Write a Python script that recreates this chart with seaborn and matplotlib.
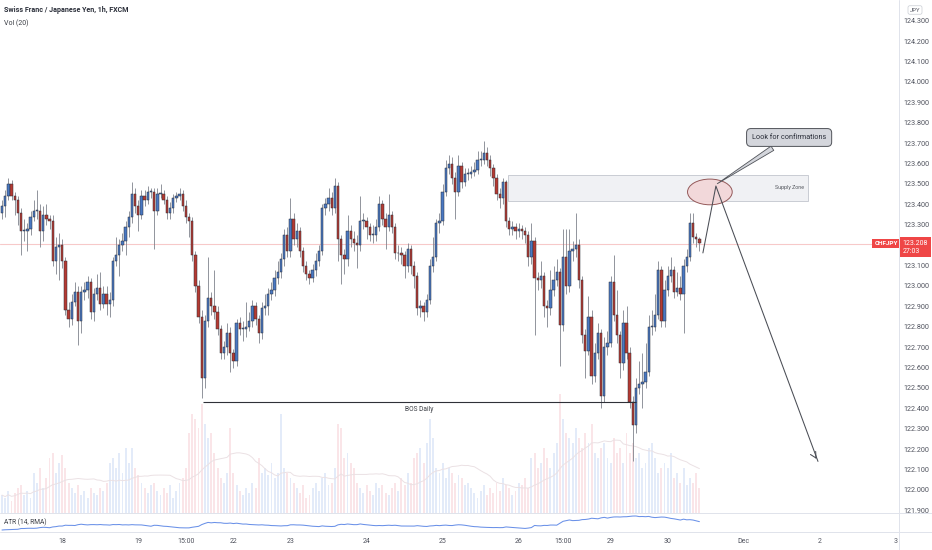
"""
CHFJPY 1h candlestick chart in a TradingView-like style:
price pane with volume overlay, supply zone / BOS drawings, ATR pane below.
"""
import matplotlib
matplotlib.use("Agg")
import matplotlib.pyplot as plt
import matplotlib.patches as mpatches
import matplotlib.transforms as mtransforms
from matplotlib.lines import Line2D
import seaborn as sns
import numpy as np
import pandas as pd

sns.set_theme(style="white")
plt.rcParams["font.family"] = ["Roboto", "DejaVu Sans"]

# ---- data ------------------------------------------------------------------
OPEN_FIRST = 123.36
CLOSE = [
    123.39, 123.44, 123.50, 123.44, 123.42, 123.36, 123.27, 123.27, 123.28, 123.34,
    123.37, 123.37, 123.27, 123.35, 123.33, 123.32, 123.12, 123.19, 123.20, 123.12,
    122.88, 122.84, 122.92, 122.97, 122.83, 122.97, 122.98, 123.02, 122.87, 122.96,
    122.99, 122.91, 122.96, 122.91, 122.93, 123.12, 123.15, 123.20, 123.22, 123.29,
    123.34, 123.45, 123.39, 123.35, 123.44, 123.42, 123.46, 123.46, 123.37, 123.45,
    123.45, 123.42, 123.36, 123.38, 123.43, 123.44, 123.45, 123.39, 123.34, 123.32,
    123.15, 123.00, 122.85, 122.55, 122.83, 122.94, 122.90, 122.87, 122.79, 122.67,
    122.70, 122.77, 122.67, 122.63, 122.82, 122.79, 122.79, 122.80, 122.83, 122.90,
    122.84, 122.77, 122.89, 122.90, 122.96, 122.98, 123.04, 123.07, 123.13, 123.25,
    123.17, 123.33, 123.23, 123.27, 123.17, 123.10, 123.06, 123.04, 123.08, 123.12,
    123.17, 123.38, 123.40, 123.43, 123.38, 123.49, 123.23, 123.15, 123.13, 123.27,
    123.23, 123.21, 123.20, 123.32, 123.32, 123.29, 123.25, 123.25, 123.29, 123.40,
    123.33, 123.29, 123.35, 123.29, 123.16, 123.16, 123.15, 123.10, 123.18, 123.10,
    123.05, 122.89, 122.90, 122.87, 122.93, 123.10, 123.14, 123.31, 123.32, 123.46,
    123.58, 123.60, 123.53, 123.46, 123.59, 123.51, 123.55, 123.55, 123.56, 123.57,
    123.62, 123.62, 123.65, 123.62, 123.58, 123.53, 123.45, 123.43, 123.51, 123.32,
    123.28, 123.29, 123.27, 123.28, 123.27, 123.25, 123.14, 123.22, 123.04, 123.03,
    123.05, 122.90, 122.89, 122.98, 123.03, 123.07, 122.81, 123.14, 123.00, 123.17,
    123.18, 123.20, 123.03, 122.76, 122.68, 122.85, 122.56, 122.67, 122.77, 122.46,
    122.70, 122.72, 123.02, 122.86, 122.76, 122.62, 122.82, 122.67, 122.43, 122.32,
    122.50, 122.52, 122.53, 122.58, 122.80, 122.80, 122.86, 123.08, 122.83, 122.98,
    123.05, 123.08, 122.97, 122.99, 122.96, 123.10, 123.14, 123.31, 123.24, 123.23,
    123.21,
]
HIGH = [
    123.42, 123.47, 123.53, 123.52, 123.46, 123.44, 123.38, 123.33, 123.31, 123.37,
    123.42, 123.47, 123.40, 123.39, 123.40, 123.35, 123.35, 123.24, 123.26, 123.23,
    123.14, 122.92, 122.96, 123.02, 123.00, 123.00, 123.02, 123.05, 123.04, 122.99,
    123.06, 123.07, 123.00, 123.00, 122.97, 123.14, 123.24, 123.23, 123.26, 123.32,
    123.37, 123.51, 123.48, 123.42, 123.47, 123.47, 123.49, 123.48, 123.48, 123.48,
    123.50, 123.47, 123.44, 123.41, 123.45, 123.46, 123.48, 123.47, 123.42, 123.36,
    123.34, 123.17, 123.03, 122.88, 122.86, 123.14, 122.97, 123.08, 122.90, 122.81,
    122.73, 122.82, 122.80, 122.69, 122.84, 122.85, 122.83, 122.92, 122.87, 122.93,
    122.92, 122.86, 122.92, 122.96, 122.99, 123.02, 123.08, 123.12, 123.16, 123.28,
    123.29, 123.43, 123.36, 123.31, 123.29, 123.19, 123.12, 123.08, 123.11, 123.16,
    123.20, 123.40, 123.43, 123.48, 123.46, 123.53, 123.51, 123.25, 123.18, 123.35,
    123.30, 123.27, 123.25, 123.44, 123.36, 123.34, 123.31, 123.30, 123.33, 123.44,
    123.42, 123.36, 123.45, 123.37, 123.31, 123.20, 123.19, 123.17, 123.21, 123.20,
    123.12, 123.07, 122.93, 122.92, 122.96, 123.13, 123.24, 123.33, 123.36, 123.50,
    123.62, 123.64, 123.63, 123.56, 123.64, 123.61, 123.58, 123.58, 123.59, 123.61,
    123.66, 123.66, 123.71, 123.68, 123.64, 123.60, 123.55, 123.48, 123.53, 123.52,
    123.34, 123.32, 123.31, 123.31, 123.30, 123.29, 123.27, 123.31, 123.24, 123.07,
    123.12, 123.07, 122.93, 123.08, 123.10, 123.13, 123.09, 123.28, 123.28, 123.28,
    123.22, 123.36, 123.23, 123.05, 122.79, 122.95, 122.88, 122.72, 122.82, 122.79,
    122.75, 122.78, 123.05, 123.15, 122.98, 122.78, 122.88, 122.90, 122.70, 122.46,
    122.55, 122.63, 122.67, 122.72, 122.86, 122.88, 122.96, 123.12, 123.10, 123.03,
    123.10, 123.14, 123.10, 123.07, 123.05, 123.13, 123.18, 123.36, 123.36, 123.26,
    123.24,
]
LOW = [
    123.33, 123.34, 123.42, 123.42, 123.35, 123.30, 123.15, 123.22, 123.17, 123.25,
    123.32, 123.33, 123.19, 123.22, 123.30, 123.28, 123.10, 123.06, 123.03, 123.09,
    122.86, 122.80, 122.81, 122.90, 122.71, 122.77, 122.93, 122.94, 122.84, 122.83,
    122.93, 122.88, 122.89, 122.86, 122.85, 122.90, 123.10, 123.05, 123.17, 123.15,
    123.24, 123.31, 123.36, 123.27, 123.33, 123.39, 123.40, 123.43, 123.18, 123.35,
    123.43, 123.40, 123.33, 123.33, 123.36, 123.41, 123.42, 123.37, 123.31, 123.24,
    123.12, 122.97, 122.82, 122.45, 122.50, 122.80, 122.86, 122.84, 122.76, 122.64,
    122.64, 122.66, 122.58, 122.60, 122.61, 122.76, 122.73, 122.75, 122.78, 122.80,
    122.81, 122.72, 122.74, 122.86, 122.86, 122.93, 122.95, 123.01, 123.04, 123.10,
    123.14, 123.14, 123.20, 123.19, 123.14, 123.07, 123.03, 123.01, 123.02, 123.05,
    123.10, 123.15, 123.35, 123.37, 123.35, 123.36, 123.12, 123.01, 123.06, 123.10,
    123.19, 123.17, 123.09, 123.17, 123.28, 123.23, 123.22, 123.21, 123.22, 123.27,
    123.30, 123.18, 123.27, 123.26, 123.13, 123.12, 123.11, 123.04, 123.07, 123.06,
    122.99, 122.86, 122.85, 122.83, 122.85, 122.91, 123.07, 123.12, 123.26, 123.30,
    123.44, 123.55, 123.50, 123.33, 123.44, 123.48, 123.49, 123.52, 123.53, 123.54,
    123.55, 123.59, 123.60, 123.59, 123.54, 123.49, 123.42, 123.38, 123.40, 123.29,
    123.25, 123.25, 123.23, 123.24, 123.23, 123.21, 123.10, 123.11, 122.76, 122.98,
    122.99, 122.85, 122.80, 122.86, 122.95, 123.00, 122.61, 122.78, 122.96, 122.97,
    123.12, 123.14, 122.99, 122.72, 122.55, 122.66, 122.52, 122.53, 122.64, 122.40,
    122.43, 122.66, 122.70, 122.83, 122.72, 122.55, 122.59, 122.64, 122.40, 122.14,
    122.28, 122.47, 122.40, 122.50, 122.56, 122.76, 122.78, 122.84, 122.80, 122.80,
    122.95, 123.02, 122.94, 122.95, 122.93, 122.77, 123.07, 123.12, 123.21, 123.19,
    123.17,
]
VOLUME = [
    18, 15, 22, 12, 20, 25, 28, 18, 22, 15,
    40, 30, 45, 25, 35, 55, 60, 40, 50, 58,
    45, 30, 25, 20, 28, 18, 22, 15, 25, 20,
    18, 25, 22, 30, 50, 55, 45, 60, 40, 65,
    50, 65, 45, 38, 30, 25, 20, 28, 30, 22,
    18, 25, 20, 28, 15, 22, 30, 35, 45, 80,
    100, 95, 85, 110, 90, 75, 80, 60, 45, 35,
    30, 40, 85, 40, 28, 22, 18, 25, 20, 30,
    25, 55, 40, 45, 38, 50, 35, 40, 100, 45,
    40, 35, 30, 25, 20, 28, 15, 18, 25, 30,
    22, 35, 40, 28, 30, 45, 90, 85, 55, 60,
    50, 45, 30, 25, 20, 28, 22, 18, 30, 25,
    28, 20, 18, 25, 30, 22, 35, 28, 40, 30,
    55, 60, 65, 50, 70, 95, 75, 45, 40, 50,
    35, 45, 40, 30, 38, 35, 28, 30, 25, 20,
    15, 22, 28, 18, 25, 20, 30, 22, 35, 28,
    25, 18, 22, 30, 28, 35, 25, 55, 60, 45,
    50, 65, 55, 45, 60, 70, 120, 95, 80, 75,
    70, 85, 75, 65, 80, 70, 90, 60, 55, 65,
    70, 55, 50, 75, 60, 65, 50, 80, 60, 70,
    55, 60, 45, 50, 65, 70, 55, 40, 45, 50,
    45, 60, 35, 40, 30, 45, 28, 35, 30, 40,
    25,
]
LAST_PRICE = 123.208
COUNTDOWN = "27:03"

TICK_BARS = [19, 43, 58, 73, 91, 115, 139, 163, 177, 192, 210, 234, 258, 282]
TICK_LABELS = ["18", "19", "15:00", "22", "23", "24", "25", "26", "15:00",
               "29", "30", "Dec", "2", "3"]
PRICE_TICKS = [round(121.9 + 0.1 * k, 1) for k in range(25)]

# drawings (bar index, price)
SUPPLY_BARS = [159.6, 254.3]
SUPPLY_PRICES = [123.417, 123.544]
ELLIPSE_CENTER = [223.3, 123.461]
ELLIPSE_SIZE = [14.1, 0.126]
CALLOUT_TEXT_AT = [248.3, 123.728]
CALLOUT_TIP = [224.9, 123.494]
PATH_BARS = [221.1, 225.2, 257.4]
PATH_PRICES = [123.162, 123.490, 122.140]
BOS_BARS = [63.4, 200.0]
BOS_PRICE = 122.43

UP, DOWN = "#4a78c2", "#b53a32"
VOL_UP, VOL_DOWN = "#e3ebf9", "#fae5e8"
TXT = "#50535e"
GRIDLINE = "#e0e3eb"

# ---- frame -----------------------------------------------------------------
df = pd.DataFrame({"close": CLOSE, "high": HIGH, "low": LOW, "volume": VOLUME})
df["open"] = df["close"].shift(1).fillna(OPEN_FIRST)
df["bar"] = np.arange(len(df))
df["up"] = df["close"] >= df["open"]
df["vol_ma"] = df["volume"].rolling(20, min_periods=1).mean()
prev_close = df["close"].shift(1).fillna(df["open"])
tr = pd.concat([df["high"] - df["low"], (df["high"] - prev_close).abs(),
                (df["low"] - prev_close).abs()], axis=1).max(axis=1)
df["atr"] = tr.ewm(alpha=1 / 14, adjust=False).mean()

W, H = 932, 550
fig = plt.figure(figsize=(W / 100, H / 100), dpi=100)
fig.patch.set_facecolor("white")
pane_w = 899 / W
rect_price = [0, 1 - 513 / H, pane_w, 513 / H]
ax_vol = fig.add_axes(rect_price)
ax = fig.add_axes(rect_price, sharex=ax_vol)
ax_atr = fig.add_axes([0, 1 - 532 / H, pane_w, 19 / H], sharex=ax_vol)

XMIN, XMAX = -0.63, 282.96
ax_vol.set_xlim(XMIN, XMAX)

# ---- volume ----------------------------------------------------------------
vcol = np.where(df["up"], VOL_UP, VOL_DOWN)
ax_vol.bar(df["bar"], df["volume"], width=0.6, color=vcol, linewidth=0)
sns.lineplot(x=df["bar"], y=df["vol_ma"], ax=ax_vol, color="#ebe1e4", lw=0.7)
ax_vol.set_ylim(0, df["volume"].max() * 4.3)
ax_vol.axis("off")

# ---- candles ---------------------------------------------------------------
ax.patch.set_alpha(0)
ax.set_ylim(121.887, 124.402)
ax.vlines(df["bar"], df["low"], df["high"], color="#80838d", lw=0.6, zorder=2)
body_lo = df[["open", "close"]].min(axis=1)
body_h = (df["close"] - df["open"]).abs().clip(lower=0.004)
ax.bar(df["bar"], body_h, bottom=body_lo, width=0.74,
       color=np.where(df["up"], UP, DOWN), edgecolor="#2a2e39", linewidth=0.35, zorder=3)

# last price line
ax.axhline(LAST_PRICE, color="#f7c9c9", lw=0.8, zorder=1)

# supply zone
ax.add_patch(mpatches.Rectangle((SUPPLY_BARS[0], SUPPLY_PRICES[0]),
                                SUPPLY_BARS[1] - SUPPLY_BARS[0],
                                SUPPLY_PRICES[1] - SUPPLY_PRICES[0],
                                facecolor="#f0f1f4", edgecolor="#c9ccd3", lw=0.7, zorder=1))
ax.text(SUPPLY_BARS[1] - 1.2, sum(SUPPLY_PRICES) / 2, "Supply Zone", fontsize=3.8,
        color="#55585f", ha="right", va="center", zorder=4)

# ellipse
ax.add_patch(mpatches.Ellipse(ELLIPSE_CENTER, ELLIPSE_SIZE[0], ELLIPSE_SIZE[1],
                              facecolor="#f3d6d8", edgecolor="#8a4a4a", lw=0.7, alpha=0.9, zorder=4))

# arrow path
ax.plot(PATH_BARS, PATH_PRICES, color="#4a4d55", lw=0.75, zorder=5)
ax.annotate("", xy=(PATH_BARS[2], PATH_PRICES[2]),
            xytext=(PATH_BARS[2] - 1.2, PATH_PRICES[2] + 0.032),
            arrowprops=dict(arrowstyle="->,head_length=0.35,head_width=0.18",
                            color="#4a4d55", lw=0.75), zorder=5)

# callout
ax.annotate("Look for confirmations", xy=CALLOUT_TIP, xytext=CALLOUT_TEXT_AT,
            fontsize=5.2, color="#2a2e39", ha="center", va="center", zorder=6,
            bbox=dict(boxstyle="round,pad=0.75,rounding_size=0.6", fc="#d4d6dc",
                      ec="#505359", lw=0.7),
            arrowprops=dict(arrowstyle="wedge,tail_width=0.7,shrink_factor=0.5",
                            fc="#d4d6dc", ec="#505359", lw=0.6))

# BOS line
ax.hlines(BOS_PRICE, BOS_BARS[0], BOS_BARS[1], color="#2f3138", lw=0.8, zorder=5)
ax.text(sum(BOS_BARS) / 2, BOS_PRICE - 0.02, "BOS Daily", fontsize=4.8,
        color="#3b3e45", ha="center", va="top", zorder=5)

# right price scale (the 123.200 label sits under the last-price tag)
ax.yaxis.tick_right()
ax.set_yticks(PRICE_TICKS)
ax.set_yticklabels(["" if abs(v - LAST_PRICE) < 0.03 else f"{v:.3f}" for v in PRICE_TICKS])
ax.tick_params(axis="y", length=0, pad=3.5, labelsize=5.2, labelcolor=TXT)
ax.tick_params(axis="x", bottom=False, labelbottom=False)
for s in ax.spines.values():
    s.set_visible(False)

blend = mtransforms.blended_transform_factory(ax.transAxes, ax.transData)
ax.text(0.9985, LAST_PRICE, "CHFJPY", transform=blend, ha="right", va="center",
        fontsize=4.6, color="white", fontweight="bold", zorder=7,
        bbox=dict(boxstyle="square,pad=0.32", fc="#ef4646", ec="none"))
ax.text(1.004, LAST_PRICE - 0.018, f"{LAST_PRICE:.3f}\n{COUNTDOWN}", transform=blend,
        ha="left", va="center", fontsize=5.0, color="white", linespacing=1.15,
        zorder=7, clip_on=False,
        bbox=dict(boxstyle="square,pad=0.4", fc="#ef4646", ec="none"))

# ---- ATR pane ---------------------------------------------------------------
sns.lineplot(x=df["bar"], y=df["atr"], ax=ax_atr, color="#6a91e8", lw=0.75)
amin, amax = df["atr"].min(), df["atr"].max()
span = amax - amin
ax_atr.set_ylim(amin - span * 2 / 14, amax + span * 3 / 14)
ax_atr.set_yticks([])
ax_atr.set_ylabel("")
ax_atr.set_xlabel("")
ax_atr.patch.set_alpha(0)
for s in ax_atr.spines.values():
    s.set_visible(False)
ax_atr.text(0.004, 0.5, "ATR (14, RMA)", transform=ax_atr.transAxes, fontsize=4.8,
            color="#3b3e45", va="center", ha="left")
ax_atr.set_xticks(TICK_BARS)
ax_atr.set_xticklabels(TICK_LABELS)
ax_atr.tick_params(axis="x", length=0, pad=4.5, labelsize=5.0, labelcolor=TXT)
ax_atr.set_xlim(XMIN, XMAX)

# ---- frame lines and header ---------------------------------------------------
for yy in (513, 532):
    fig.add_artist(Line2D([0, 1], [1 - yy / H] * 2, transform=fig.transFigure,
                          color=GRIDLINE, lw=0.7))
fig.add_artist(Line2D([pane_w] * 2, [0, 1], transform=fig.transFigure,
                      color=GRIDLINE, lw=0.7))

fig.text(4 / W, 1 - 10 / H, "Swiss Franc / Japanese Yen, 1h, FXCM", fontsize=5.1,
         fontweight="bold", color="#2a2e39", va="center", ha="left")
fig.text(4 / W, 1 - 23 / H, "Vol (20)", fontsize=5.0, color="#3b3e45",
         va="center", ha="left")
fig.text(915 / W, 1 - 10 / H, "JPY", fontsize=4.2, color=TXT, va="center", ha="center",
         bbox=dict(boxstyle="round,pad=0.3,rounding_size=0.3", fc="white",
                   ec="#c9ccd3", lw=0.5))

fig.savefig("out.png", dpi=100)
